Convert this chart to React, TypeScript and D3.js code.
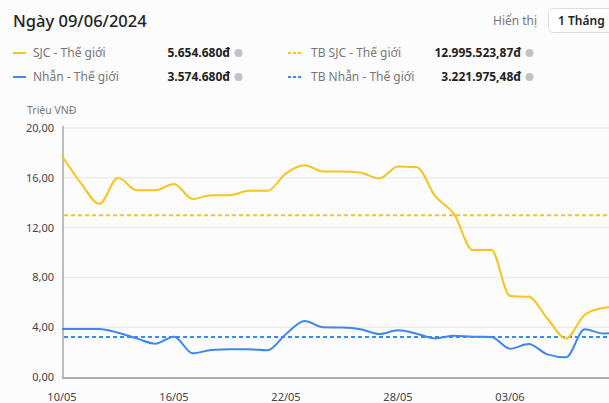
import React from 'react';
import * as d3 from 'd3';

const dates = [
  '2024-05-10', '2024-05-11', '2024-05-12', '2024-05-13', '2024-05-14', '2024-05-15',
  '2024-05-16', '2024-05-17', '2024-05-18', '2024-05-19', '2024-05-20', '2024-05-21',
  '2024-05-22', '2024-05-23', '2024-05-24', '2024-05-25', '2024-05-26', '2024-05-27',
  '2024-05-28', '2024-05-29', '2024-05-30', '2024-05-31', '2024-06-01', '2024-06-02',
  '2024-06-03', '2024-06-04', '2024-06-05', '2024-06-06', '2024-06-07', '2024-06-08',
  '2024-06-09',
];
const sjc = [
  17.75, 15.6, 13.9, 16.0, 15.0, 15.0, 15.5, 14.3, 14.6, 14.6, 14.95, 14.95,
  16.35, 17.0, 16.5, 16.5, 16.4, 15.95, 16.9, 16.85, 14.5, 13.1, 10.2, 10.2,
  6.5, 6.45, 4.7, 3.1, 5.0, 5.55, 5.65,
];
const nhan = [
  3.86, 3.86, 3.86, 3.56, 3.1, 2.68, 3.24, 1.9, 2.17, 2.22, 2.22, 2.14,
  3.45, 4.5, 3.99, 3.97, 3.83, 3.45, 3.75, 3.48, 3.1, 3.32, 3.24, 3.22,
  2.27, 2.65, 1.82, 1.58, 3.83, 3.5, 3.57,
];
const avgSjc = 12.99552387;
const avgNhan = 3.22197548;
const yTicks = [0, 4, 8, 12, 16, 20];
const xTickDates = ['2024-05-10', '2024-05-16', '2024-05-22', '2024-05-28', '2024-06-03'];

const legendRows = [
  { name: 'SJC - Thế giới', value: '5.654.680đ', avgName: 'TB SJC - Thế giới', avgValue: '12.995.523,87đ', color: '#f8c41c' },
  { name: 'Nhẫn - Thế giới', value: '3.574.680đ', avgName: 'TB Nhẫn - Thế giới', avgValue: '3.221.975,48đ', color: '#3f87ee' },
];

const W = 609;
const H = 403;
const FONT = '"Noto Sans", "Open Sans", sans-serif';

const parse = d3.timeParse('%Y-%m-%d');
const fmtTick = d3.timeFormat('%d/%m');
const fmtY = (v: number) => v.toFixed(2).replace('.', ',');

export default function App() {
  const days = dates.map((d) => parse(d) as Date);

  const x = d3.scaleTime()
    .domain([days[0], days[days.length - 1]])
    .range([62, 622]);

  const y = d3.scaleLinear()
    .domain([0, 20])
    .range([377, 128]);

  const line = d3.line<number>()
    .x((_, i) => x(days[i]))
    .y((d) => y(d))
    .curve(d3.curveMonotoneX);

  const series = [
    { values: sjc, avg: avgSjc, color: legendRows[0].color },
    { values: nhan, avg: avgNhan, color: legendRows[1].color },
  ];

  return (
    <svg
      width={W}
      height={H}
      style={{ position: 'absolute', left: 0, top: 0, display: 'block', background: '#fcfcfc' }}
      fontFamily={FONT}
    >
      {/* header */}
      <text x={13} y={27} fontSize={16.5} fill="#222" fontWeight={500}>Ngày 09/06/2024</text>
      <text x={493} y={25} fontSize={12} fill="#777">Hiển thị</text>
      <rect x={548.5} y={8.5} width={80} height={24} rx={5} fill="#fff" stroke="#dcdcdc" />
      <text x={558} y={25} fontSize={12} fill="#222" fontWeight={600}>1 Tháng</text>

      {/* legend */}
      {legendRows.map((r, i) => {
        const yy = 53 + i * 24;
        return (
          <g key={r.name}>
            <line x1={13} x2={26} y1={yy} y2={yy} stroke={r.color} strokeWidth={2} />
            <text x={33} y={yy + 4} fontSize={12} fill="#777">{r.name}</text>
            <text x={230} y={yy + 4} fontSize={12} fill="#222" fontWeight={700} textAnchor="end">{r.value}</text>
            <circle cx={238.5} cy={yy} r={4} fill="#c2c2c2" />
            <line x1={288} x2={301} y1={yy} y2={yy} stroke={r.color} strokeWidth={2} strokeDasharray="3,2" />
            <text x={311} y={yy + 4} fontSize={12} fill="#777">{r.avgName}</text>
            <text x={521} y={yy + 4} fontSize={12} fill="#222" fontWeight={700} textAnchor="end">{r.avgValue}</text>
            <circle cx={529.5} cy={yy} r={4} fill="#c2c2c2" />
          </g>
        );
      })}

      {/* y axis */}
      <text x={27} y={114} fontSize={10.5} fill="#777">Triệu VNĐ</text>
      {yTicks.map((t) => (
        <g key={t}>
          {t > 0 && <line x1={63} x2={W} y1={y(t)} y2={y(t)} stroke="#ececec" strokeWidth={1.5} />}
          <text x={54} y={y(t) + 4} fontSize={11} fill="#444" textAnchor="end">{fmtY(t)}</text>
        </g>
      ))}
      <line x1={63} x2={63} y1={126} y2={378} stroke="#a8a8a8" strokeWidth={1.5} />
      <line x1={62} x2={W} y1={378} y2={378} stroke="#b0b0b0" strokeWidth={2} />

      {/* x axis labels */}
      {xTickDates.map((d) => {
        const dt = parse(d) as Date;
        return (
          <text key={d} x={x(dt)} y={401} fontSize={11} fill="#444" textAnchor="middle">{fmtTick(dt)}</text>
        );
      })}

      {/* average lines */}
      {series.map((s) => (
        <line key={'avg' + s.color} x1={64} x2={W} y1={y(s.avg)} y2={y(s.avg)}
          stroke={s.color} strokeWidth={2} strokeDasharray="4,3" />
      ))}

      {/* series lines */}
      {series.map((s) => (
        <path key={s.color} d={line(s.values) || ''} fill="none" stroke={s.color} strokeWidth={2} />
      ))}
    </svg>
  );
}
